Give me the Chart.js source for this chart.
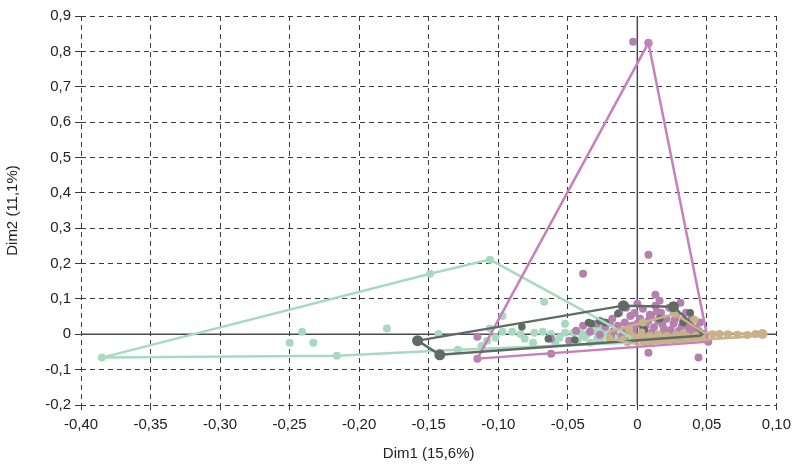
<!DOCTYPE html>
<html>
<head>
<meta charset="utf-8">
<script src="https://cdn.jsdelivr.net/npm/chart.js@4"></script>
<style>
  html, body { margin: 0; padding: 0; background: #fff; }
</style>
</head>
<body>
<canvas id="myChart" width="797" height="467"></canvas>
<script>
// axis ticks
const xTicks = [-0.40, -0.35, -0.30, -0.25, -0.20, -0.15, -0.10, -0.05, 0, 0.05, 0.10];
const xTickLabels = ['-0,40', '-0,35', '-0,30', '-0,25', '-0,20', '-0,15', '-0,10', '-0,05', '0', '0,05', '0,10'];
const yTicks = [-0.2, -0.1, 0, 0.1, 0.2, 0.3, 0.4, 0.5, 0.6, 0.7, 0.8, 0.9];
const yTickLabels = ['-0,2', '-0,1', '0', '0,1', '0,2', '0,3', '0,4', '0,5', '0,6', '0,7', '0,8', '0,9'];

// group 1 (mint)
const greenPoints = [
  [-0.385, -0.066], [-0.250, -0.024], [-0.241, 0.007], [-0.233, -0.024], [-0.216, -0.061],
  [-0.180, 0.016], [-0.149, 0.171], [-0.143, 0.001], [-0.129, -0.044], [-0.112, -0.033],
  [-0.108, -0.018], [-0.106, 0.016], [-0.106, 0.211], [-0.097, 0.007], [-0.097, 0.052],
  [-0.090, 0.007], [-0.084, 0.001], [-0.081, -0.013], [-0.075, -0.024], [-0.074, 0.004],
  [-0.068, 0.007], [-0.067, 0.092], [-0.062, 0.001], [-0.059, -0.024], [-0.052, 0.030],
  [-0.052, 0.004], [-0.046, 0.004], [-0.043, -0.018], [-0.040, 0.001], [-0.036, 0.001],
  [-0.034, -0.024], [-0.033, 0.016], [-0.029, -0.013], [-0.026, -0.013], [-0.025, 0.018],
  [-0.024, 0.035], [-0.022, 0.004], [-0.020, -0.010], [-0.016, 0.016], [-0.013, -0.010],
  [-0.007, -0.024], [-0.030, 0.008], [-0.018, 0.000], [-0.010, 0.006], [-0.038, -0.008],
  [-0.056, -0.010], [-0.102, -0.010]
];
const greenHull = [
  [-0.385, -0.066], [-0.149, 0.171], [-0.106, 0.211], [-0.024, 0.035], [-0.005, -0.008],
  [-0.007, -0.024], [-0.129, -0.044], [-0.216, -0.061], [-0.385, -0.066]
];

// group 2 (pink)
const pinkPoints = [
  [-0.003, 0.827], [0.008, 0.824], [-0.039, 0.171], [0.008, 0.225], [0.013, 0.112],
  [0.031, 0.089], [-0.115, -0.069], [-0.115, -0.007], [-0.062, -0.055], [0.008, -0.052],
  [0.044, -0.066], [0.051, -0.021],
  [-0.039, 0.024], [-0.029, 0.030], [-0.049, -0.018], [-0.062, -0.013], [-0.018, 0.044],
  [-0.013, 0.061], [-0.009, 0.033], [-0.005, 0.052], [-0.003, 0.010], [0.002, 0.044],
  [0.004, 0.072], [0.006, 0.024], [0.009, 0.055], [0.010, 0.004], [0.013, 0.081],
  [0.015, 0.038], [0.017, 0.061], [0.019, 0.016], [0.021, 0.044], [0.023, 0.075],
  [0.026, 0.030], [0.028, 0.055], [0.030, 0.010], [0.033, 0.038], [0.035, 0.061],
  [0.037, 0.021], [0.039, 0.044], [-0.011, -0.004], [-0.007, -0.018], [-0.001, -0.013],
  [0.005, -0.021], [0.013, -0.013], [0.022, -0.007], [0.031, -0.013], [0.039, 0.001],
  [0.045, 0.033], [-0.017, 0.010], [-0.023, 0.021], [-0.027, -0.001], [-0.034, 0.007],
  [0.016, 0.095], [0.000, 0.086], [-0.008, 0.075], [0.008, 0.038], [-0.004, 0.024],
  [0.000, 0.030], [0.004, 0.004], [0.012, 0.020], [0.018, 0.028], [0.024, 0.012],
  [0.027, 0.042], [0.032, 0.024], [0.036, 0.004], [0.042, 0.016], [-0.014, 0.024],
  [-0.008, 0.012], [-0.020, 0.032], [0.010, 0.048], [0.020, 0.002], [0.044, 0.010],
  [-0.002, 0.060], [0.014, 0.064], [0.026, 0.066], [-0.044, 0.010], [-0.019, -0.006]
];
const pinkHull = [[0.008, 0.824], [0.051, -0.021], [-0.115, -0.069], [0.008, 0.824]];

// group 3 (dark grey)
const greyPoints = [
  [-0.083, 0.021], [-0.033, 0.030], [-0.014, 0.058], [-0.023, 0.033], [-0.027, 0.038],
  [0.004, 0.016], [-0.064, -0.013], [-0.045, -0.016], [-0.035, 0.033], [0.005, 0.013],
  [0.033, 0.033], [0.016, 0.044], [0.038, 0.061], [0.047, 0.001]
];
const greyVertices = [[-0.158, -0.018], [-0.142, -0.058], [-0.010, 0.081], [0.026, 0.078]];
const greyHull = [
  [-0.158, -0.018], [-0.010, 0.081], [0.026, 0.078], [0.047, 0.001], [0.045, -0.004],
  [-0.142, -0.058], [-0.158, -0.018]
];

// group 4 (tan)
const tanPoints = [
  [-0.006, 0.014], [0.004, 0.033], [0.027, 0.058], [0.041, 0.041],
  [0.000, -0.010], [0.007, -0.010], [0.013, -0.010], [0.018, -0.010], [0.025, -0.010],
  [0.030, -0.008], [0.036, -0.006], [0.042, -0.004], [0.048, -0.003], [0.054, 0.000],
  [0.059, 0.001], [0.065, 0.000], [0.072, -0.001], [0.079, -0.002], [0.085, 0.001],
  [-0.010, -0.015], [-0.020, -0.012], [0.010, -0.020], [0.020, -0.018], [0.003, 0.005],
  [0.015, 0.000], [0.028, -0.002], [0.004, -0.016], [0.016, -0.015], [0.026, -0.016],
  [0.034, -0.013], [0.040, -0.011], [0.046, -0.009], [-0.004, -0.004], [0.009, -0.004],
  [0.021, -0.004], [0.033, 0.002]
];
const tanEnd = [[0.090, 0.001]];
const tanHull = [
  [-0.020, 0.008], [0.027, 0.058], [0.048, 0.004], [0.090, 0.001], [0.088, -0.004],
  [0.000, -0.028], [-0.020, -0.012], [-0.020, 0.008]
];

const colors = {
  green: '#a7dac0',
  pinkLine: '#c97fbb',
  pinkPoint: '#b480ad',
  grey: '#5f6b65',
  tan: '#c9b189'
};

function xy(arr) {
  return arr.map(p => ({ x: p[0], y: p[1] }));
}

function pts(data, color, r, order) {
  return { data: xy(data), backgroundColor: color, borderColor: color, borderWidth: 0,
    pointRadius: r, pointHoverRadius: r, showLine: false, order: order };
}

function hull(data, color, order) {
  return { data: xy(data), borderColor: color, backgroundColor: color, borderWidth: 2.5,
    pointRadius: 0, showLine: true, fill: false, tension: 0, order: order };
}

// solid axes lines through 0
const zeroLines = {
  id: 'zeroLines',
  beforeDatasetsDraw(chart) {
    const { ctx, chartArea, scales } = chart;
    const x0 = scales.x.getPixelForValue(0);
    const y0 = scales.y.getPixelForValue(0);
    ctx.save();
    ctx.strokeStyle = '#4a4a4a';
    ctx.lineWidth = 1.5;
    ctx.beginPath();
    ctx.moveTo(chartArea.left, y0);
    ctx.lineTo(chartArea.right, y0);
    ctx.moveTo(x0, chartArea.top);
    ctx.lineTo(x0, chartArea.bottom);
    ctx.stroke();
    ctx.restore();
  }
};

const font = { family: '"Liberation Sans", Arial, sans-serif', size: 15 };

const chart = new Chart(document.getElementById('myChart'), {
  type: 'scatter',
  data: {
    datasets: [
      pts(greenPoints, colors.green, 4, 20),
      pts(pinkPoints, colors.pinkPoint, 4, 19),
      pts(greyPoints, colors.grey, 3.8, 18),
      pts(tanPoints, colors.tan, 4, 17),
      hull(greenHull, colors.green, 9),
      hull(pinkHull, colors.pinkLine, 8),
      hull(greyHull, colors.grey, 7),
      hull(tanHull, colors.tan, 6),
      pts(greyVertices, colors.grey, 5.5, 5),
      pts(tanEnd, colors.tan, 5, 5),
      pts([[0.008, 0.824]], colors.pinkLine, 4, 5)
    ]
  },
  options: {
    responsive: false,
    animation: false,
    devicePixelRatio: 1,
    layout: { padding: { top: 16, right: 20, left: 0, bottom: 0 } },
    plugins: { legend: { display: false }, tooltip: { enabled: false } },
    scales: {
      x: {
        type: 'linear',
        min: -0.4,
        max: 0.1,
        afterBuildTicks: s => { s.ticks = xTicks.map(v => ({ value: v })); },
        afterFit: s => { s.height = 62; },
        ticks: {
          color: '#222',
          font: font,
          padding: 6,
          maxRotation: 0,
          autoSkip: false,
          callback: (v, i) => xTickLabels[i]
        },
        grid: {
          color: c => (c.tick && c.tick.value === 0) ? 'rgba(0,0,0,0)' : '#3a3a3a',
          lineWidth: 1,
          tickLength: 5,
          tickColor: '#3a3a3a',
          tickBorderDash: [0, 0]
        },
        border: { display: false, dash: [5, 4] },
        title: { display: true, text: 'Dim1 (15,6%)', color: '#222', font: font, padding: { top: 2 } }
      },
      y: {
        type: 'linear',
        min: -0.2,
        max: 0.9,
        afterBuildTicks: s => { s.ticks = yTicks.map(v => ({ value: v })); },
        afterFit: s => { s.width = 81; },
        ticks: {
          color: '#222',
          font: font,
          padding: 4,
          autoSkip: false,
          callback: (v, i) => yTickLabels[i]
        },
        grid: {
          color: c => (c.tick && c.tick.value === 0) ? 'rgba(0,0,0,0)' : '#3a3a3a',
          lineWidth: 1,
          tickLength: 6,
          tickColor: '#3a3a3a',
          tickBorderDash: [0, 0]
        },
        border: { display: false, dash: [5, 4] },
        title: { display: true, text: 'Dim2 (11,1%)', color: '#222', font: font, padding: { bottom: 2 } }
      }
    }
  },
  plugins: [zeroLines]
});
</script>
</body>
</html>
